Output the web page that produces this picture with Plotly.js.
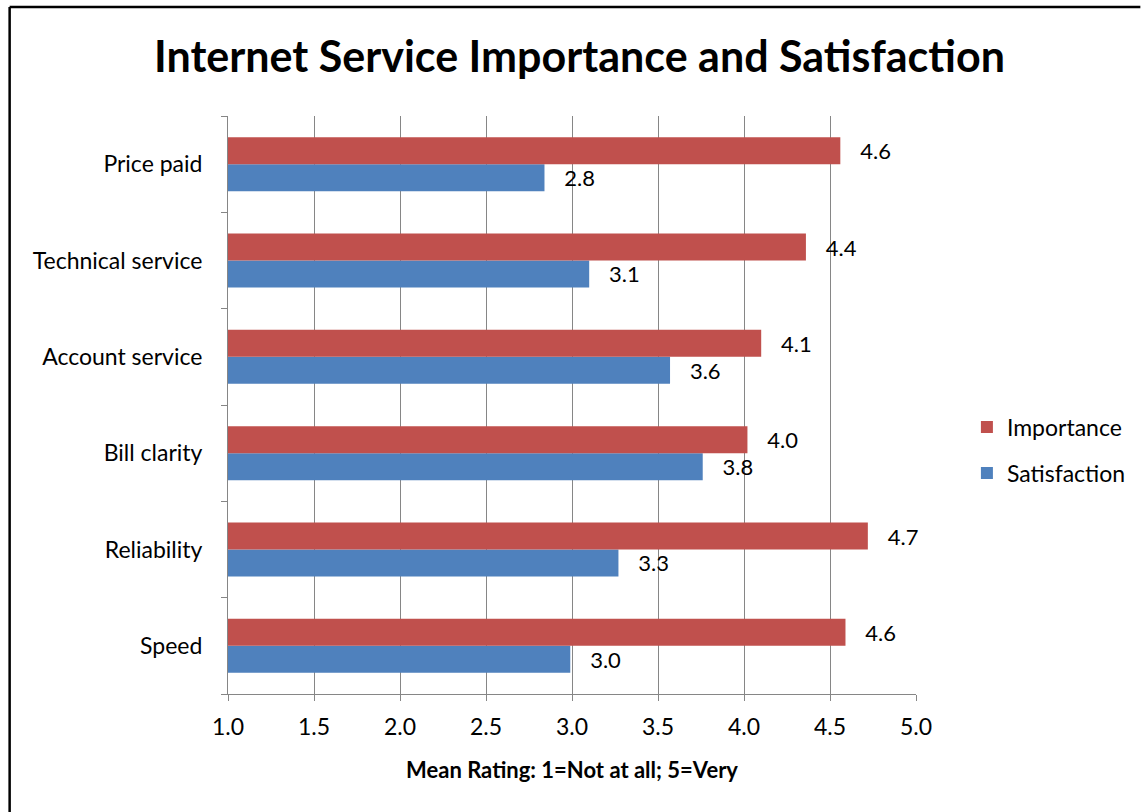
<!DOCTYPE html>
<html>
<head>
<meta charset="utf-8">
<script src="https://cdn.plot.ly/plotly-3.0.1.min.js"></script>
<style>
html,body{margin:0;padding:0;background:#fff;}
#chart{width:1143px;height:812px;}
</style>
</head>
<body>
<div id="chart"></div>
<script>
const categories = ["Speed", "Reliability", "Bill clarity", "Account service", "Technical service", "Price paid"];
const importance = [4.59, 4.72, 4.02, 4.10, 4.36, 4.56];
const satisfaction = [2.99, 3.27, 3.76, 3.57, 3.10, 2.84];
const xTicks = [1.0, 1.5, 2.0, 2.5, 3.0, 3.5, 4.0, 4.5, 5.0];

const FONT = "Lato, 'Open Sans', sans-serif";
const RED = "#C0504D";
const BLUE = "#4F81BD";

const traces = [
  {
    type: "bar", orientation: "h", name: "Satisfaction",
    y: categories, x: satisfaction,
    marker: {color: BLUE},
    texttemplate: "   %{x:.1f}", textposition: "outside", cliponaxis: false,
    textfont: {family: FONT, size: 22, color: "#000"},
    legend: "legend2", showlegend: true, hoverinfo: "x+name"
  },
  {
    type: "bar", orientation: "h", name: "Importance",
    y: categories, x: importance,
    marker: {color: RED},
    texttemplate: "   %{x:.1f}", textposition: "outside", cliponaxis: false,
    textfont: {family: FONT, size: 22, color: "#000"},
    legend: "legend", showlegend: true, hoverinfo: "x+name"
  }
];

const layout = {
  width: 1143, height: 812,
  margin: {l: 228, r: 225, t: 116, b: 118},
  paper_bgcolor: "#fff", plot_bgcolor: "#fff",
  font: {family: FONT, color: "#000"},
  showlegend: true,
  barmode: "group", bargap: 0.44, bargroupgap: 0,
  title: {
    text: "<b>Internet Service Importance and Satisfaction</b>",
    font: {family: FONT, size: 43, color: "#000"},
    x: 0.507, xref: "container", xanchor: "center",
    y: 1 - 57/812, yref: "container", yanchor: "middle"
  },
  xaxis: {
    range: [1, 5], tickvals: xTicks, ticktext: xTicks.map(v => v.toFixed(1)),
    showgrid: true, gridcolor: "#868686", gridwidth: 1,
    showline: true, linecolor: "#868686", linewidth: 1,
    ticks: "outside", ticklen: 6, tickcolor: "#868686",
    ticklabelstandoff: 6,
    tickfont: {family: FONT, size: 23, color: "#000"},
    zeroline: false, fixedrange: true,
    title: {text: "<b>Mean Rating: 1=Not at all; 5=Very</b>", font: {family: FONT, size: 22, color: "#000"}, standoff: 24}
  },
  yaxis: {
    type: "category", categoryorder: "array", categoryarray: categories,
    showgrid: false, showline: true, linecolor: "#868686", linewidth: 1,
    ticks: "outside", ticklen: 6, tickcolor: "#868686", tickson: "boundaries",
    ticklabelstandoff: 20,
    tickfont: {family: FONT, size: 23, color: "#000"},
    fixedrange: true
  },
  legend: {
    x: 1.074, xanchor: "left", y: (694-427)/578, yanchor: "middle",
    font: {family: FONT, size: 23, color: "#000"}, bgcolor: "rgba(0,0,0,0)"
  },
  legend2: {
    x: 1.074, xanchor: "left", y: (694-473)/578, yanchor: "middle",
    font: {family: FONT, size: 23, color: "#000"}, bgcolor: "rgba(0,0,0,0)"
  },
  shapes: [
    {type: "line", xref: "paper", yref: "paper", x0: (9-228)/690, x1: (1143-228)/690, y0: (694-7)/578, y1: (694-7)/578, line: {color: "#000", width: 2.5}},
    {type: "line", xref: "paper", yref: "paper", x0: (9-228)/690, x1: (9-228)/690, y0: (694-7)/578, y1: (694-812)/578, line: {color: "#000", width: 2.5}}
  ]
};

Plotly.newPlot("chart", traces, layout, {displayModeBar: false});
</script>
</body>
</html>
